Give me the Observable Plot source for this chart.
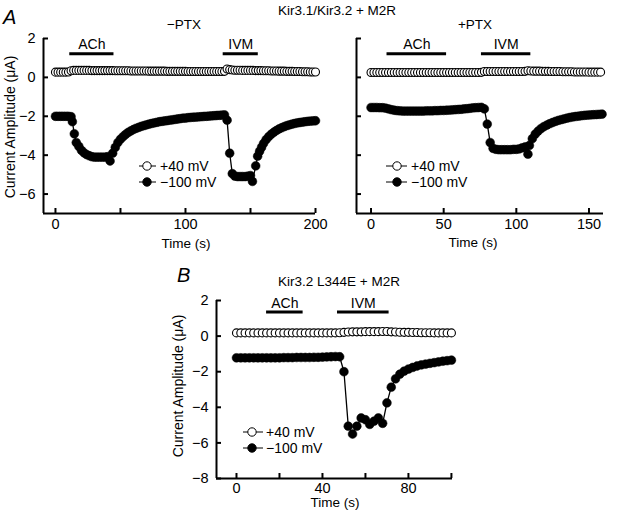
<!DOCTYPE html>
<html><head><meta charset="utf-8">
<script src="https://cdn.jsdelivr.net/npm/d3@7"></script>
<script src="https://cdn.jsdelivr.net/npm/@observablehq/plot@0.6"></script>
<style>
body{margin:0;background:#fff;}
#fig{position:relative;width:618px;height:513px;overflow:hidden;font-family:Arial,"Liberation Sans",Helvetica,sans-serif;color:#000;background:#fff;}
.p{position:absolute;}
.t{position:absolute;transform:translate(-50%,-50%);white-space:nowrap;font-size:13.5px;line-height:1;}
.ylab{transform:translate(-50%,-50%) rotate(-90deg);font-size:14px;}
.big{font-size:20px;font-style:italic;transform:none;}
</style></head><body><div id="fig"></div><script>
// ---------- DATA ----------
// Panel A, -PTX  (time s, current µA)
const a1Pos40 = [[0,.27],[2,.27],[4,.27],[6,.27],[8,.27],[10,.28],[12,.34],[14,.36],[16,.36],[18,.36],[20,.36],[22,.36],[24,.36],[26,.36],[28,.35],[30,.35],[32,.35],[34,.35],[36,.35],[38,.35],[40,.35],[42,.35],[44,.35],[46,.34],[48,.34],[50,.34],[52,.34],[54,.34],[56,.34],[58,.33],[60,.33],[62,.33],[64,.33],[66,.33],[68,.33],[70,.33],[72,.32],[74,.32],[76,.32],[78,.32],[80,.32],[82,.32],[84,.32],[86,.31],[88,.31],[90,.31],[92,.31],[94,.31],[96,.31],[98,.31],[100,.31],[102,.30],[104,.30],[106,.30],[108,.30],[110,.30],[112,.30],[114,.30],[116,.30],[118,.30],[120,.30],[122,.30],[124,.30],[126,.30],[128,.30],[130,.31],[132,.43],[134,.40],[136,.38],[138,.37],[140,.37],[142,.37],[144,.36],[146,.36],[148,.36],[150,.36],[152,.36],[154,.35],[156,.35],[158,.35],[160,.34],[162,.34],[164,.34],[166,.33],[168,.33],[170,.33],[172,.32],[174,.32],[176,.32],[178,.31],[180,.31],[182,.31],[184,.30],[186,.30],[188,.30],[190,.29],[192,.29],[194,.29],[196,.28],[198,.28],[200,.28]];
const a1Neg100 = [[0,-2.0],[2,-2.0],[4,-2.0],[6,-2.0],[8,-2.0],[10,-2.0],[12,-2.02],[13,-2.28],[14.5,-2.9],[16,-3.35],[18,-3.55],[20,-3.75],[22,-3.88],[24,-3.97],[26,-4.03],[28,-4.08],[30,-4.1],[32,-4.1],[34,-4.1],[36,-4.1],[38,-4.1],[40,-4.08],[42,-4.3],[44,-3.9],[46,-3.6],[48,-3.35],[50,-3.18],[52,-3.05],[54,-2.93],[56,-2.83],[58,-2.75],[60,-2.68],[62,-2.62],[64,-2.57],[66,-2.52],[68,-2.48],[70,-2.44],[72,-2.4],[74,-2.37],[76,-2.34],[78,-2.31],[80,-2.28],[82,-2.26],[84,-2.24],[86,-2.22],[88,-2.2],[90,-2.18],[92,-2.16],[94,-2.14],[96,-2.12],[98,-2.1],[100,-2.09],[102,-2.07],[104,-2.06],[106,-2.05],[108,-2.04],[110,-2.03],[112,-2.02],[114,-2.01],[116,-2.0],[118,-1.99],[120,-1.98],[122,-1.97],[124,-1.96],[126,-1.95],[128,-1.94],[130,-1.93],[132,-2.2],[134,-3.9],[136,-4.95],[138,-5.08],[140,-5.1],[142,-5.1],[144,-5.1],[146,-5.1],[148,-5.08],[150,-5.05],[151.5,-5.35],[154,-4.55],[155.5,-4.05],[157,-3.8],[158.5,-3.6],[160,-3.4],[162,-3.2],[164,-3.05],[166,-2.92],[168,-2.82],[170,-2.73],[172,-2.65],[174,-2.59],[176,-2.53],[178,-2.48],[180,-2.44],[182,-2.4],[184,-2.37],[186,-2.34],[188,-2.32],[190,-2.3],[192,-2.28],[194,-2.26],[196,-2.25],[198,-2.24],[200,-2.23]];
const a1Bars = [{label:"ACh", start:11, end:45},{label:"IVM", start:129, end:156}];

// Panel A, +PTX
const a2Pos40 = [[0,.25],[2,.25],[4,.25],[6,.25],[8,.25],[10,.25],[12,.25],[14,.25],[16,.25],[18,.25],[20,.25],[22,.25],[24,.25],[26,.25],[28,.25],[30,.25],[32,.25],[34,.25],[36,.25],[38,.25],[40,.25],[42,.25],[44,.25],[46,.25],[48,.25],[50,.25],[52,.25],[54,.25],[56,.25],[58,.25],[60,.25],[62,.25],[64,.25],[66,.25],[68,.25],[70,.25],[72,.25],[74,.25],[76,.26],[78,.30],[80,.30],[82,.30],[84,.30],[86,.30],[88,.30],[90,.30],[92,.30],[94,.30],[96,.30],[98,.30],[100,.30],[102,.30],[104,.30],[106,.31],[108,.34],[110,.33],[112,.32],[114,.32],[116,.32],[118,.31],[120,.31],[122,.31],[124,.30],[126,.30],[128,.30],[130,.30],[132,.29],[134,.29],[136,.29],[138,.29],[140,.28],[142,.28],[144,.28],[146,.28],[148,.28],[150,.27],[152,.27],[154,.27],[156,.27],[158,.27]];
const a2Neg100 = [[0,-1.55],[2,-1.55],[4,-1.55],[6,-1.56],[8,-1.56],[10,-1.58],[12,-1.62],[14,-1.66],[16,-1.69],[18,-1.71],[20,-1.72],[22,-1.73],[24,-1.73],[26,-1.73],[28,-1.73],[30,-1.73],[32,-1.73],[34,-1.73],[36,-1.73],[38,-1.72],[40,-1.72],[42,-1.72],[44,-1.71],[46,-1.71],[48,-1.7],[50,-1.7],[52,-1.69],[54,-1.68],[56,-1.67],[58,-1.66],[60,-1.65],[62,-1.64],[64,-1.62],[66,-1.61],[68,-1.59],[70,-1.57],[72,-1.56],[74,-1.55],[76,-1.54],[78,-1.62],[80,-2.4],[82,-3.35],[84,-3.65],[86,-3.7],[88,-3.72],[90,-3.72],[92,-3.72],[94,-3.72],[96,-3.72],[98,-3.7],[100,-3.7],[102,-3.68],[104,-3.62],[106,-3.58],[108,-3.95],[109,-3.5],[111,-3.15],[113,-2.92],[115,-2.76],[117,-2.63],[119,-2.53],[121,-2.45],[123,-2.38],[125,-2.32],[127,-2.26],[129,-2.21],[131,-2.17],[133,-2.13],[135,-2.09],[137,-2.06],[139,-2.03],[141,-2.01],[143,-1.99],[145,-1.97],[147,-1.95],[149,-1.94],[151,-1.93],[153,-1.92],[155,-1.91],[157,-1.9],[159,-1.89]];
const a2Bars = [{label:"ACh", start:11, end:52},{label:"IVM", start:76, end:110}];

// Panel B, Kir3.2 L344E
const bPos40 = [[0,.18],[2,.18],[4,.18],[6,.18],[8,.18],[10,.18],[12,.18],[14,.18],[16,.18],[18,.18],[20,.18],[22,.18],[24,.18],[26,.18],[28,.18],[30,.18],[32,.18],[34,.18],[36,.18],[38,.18],[40,.18],[42,.18],[44,.18],[46,.18],[48,.19],[50,.21],[52,.23],[54,.24],[56,.24],[58,.24],[60,.25],[62,.25],[64,.25],[66,.25],[68,.26],[70,.26],[72,.24],[74,.23],[76,.22],[78,.21],[80,.21],[82,.20],[84,.20],[86,.19],[88,.19],[90,.19],[92,.18],[94,.18],[96,.18],[98,.18],[100,.18]];
const bNeg100 = [[0,-1.22],[2,-1.22],[4,-1.22],[6,-1.22],[8,-1.22],[10,-1.22],[12,-1.22],[14,-1.22],[16,-1.22],[18,-1.22],[20,-1.22],[22,-1.21],[24,-1.21],[26,-1.21],[28,-1.2],[30,-1.2],[32,-1.2],[34,-1.2],[36,-1.19],[38,-1.19],[40,-1.18],[42,-1.17],[44,-1.16],[46,-1.15],[48,-1.16],[50,-2.0],[52,-5.06],[54,-5.5],[56,-5.06],[58,-4.6],[60,-4.7],[62,-4.96],[64,-4.78],[66,-4.6],[68,-4.9],[70,-3.75],[72,-2.87],[74,-2.4],[76,-2.14],[78,-1.97],[80,-1.85],[82,-1.76],[84,-1.68],[86,-1.62],[88,-1.57],[90,-1.53],[92,-1.49],[94,-1.45],[96,-1.41],[98,-1.38],[100,-1.35]];
const bBars = [{label:"ACh", start:14, end:31},{label:"IVM", start:47, end:71}];

// ticks
const a1XTicks = [0,50,100,150,200], a1XLabels = [0,100,200];
const a2XTicks = [0,50,100,150], a2XLabels = [0,50,100,150];
const bXTicks = [0,20,40,60,80,100], bXLabels = [0,40,80];
const aYTicks = [2,0,-2,-4,-6], aYLabels = [2,0,-2,-4,-6], a2YLabels = [];
const bYTicks = [2,0,-2,-4,-6,-8], bYLabels = [2,0,-2,-4,-6,-8];

// ---------- DRAW ----------
const FONT = 'Arial, "Liberation Sans", Helvetica, sans-serif';
const fmt = d => d < 0 ? "\u2212" + Math.abs(d) : String(d);
const fig = document.getElementById("fig");

function panel(c) {
  const X = d => d[0], Y = d => d[1];
  const marks = [
    Plot.ruleY(c.bars, {x1: "start", x2: "end", y: c.barY, strokeWidth: 3, stroke: "black"}),
    Plot.text(c.bars, {x: d => (d.start + d.end) / 2, y: c.barTextY, text: "label", fontSize: 14, fill: "black"}),
    Plot.line(c.pos, {x: X, y: Y, stroke: "black", strokeWidth: 1}),
    Plot.line(c.neg, {x: X, y: Y, stroke: "black", strokeWidth: 1.3}),
    Plot.dot(c.pos, {x: X, y: Y, r: 4, fill: "white", stroke: "black", strokeWidth: 1.1}),
    Plot.dot(c.neg, {x: X, y: Y, r: 4.4, fill: "black", stroke: "black", strokeWidth: 0.5}),
    Plot.ruleX([c.xDomain[0]], {stroke: "black", strokeWidth: 2}),
    Plot.ruleY([c.yDomain[0]], {stroke: "black", strokeWidth: 2}),
    Plot.axisX(c.xTicks, {tickSize: -5, fill: "none", stroke: "black", strokeWidth: 2, label: null}),
    Plot.axisX(c.xLabels, {tickSize: 0, tickPadding: c.xPad, label: null, tickFormat: fmt, fill: "black", fontSize: 14.5}),
    Plot.axisY(c.yTicks, {tickSize: -5, fill: "none", stroke: "black", strokeWidth: 2, label: null})
  ];
  if (c.yLabels.length) marks.push(Plot.axisY(c.yLabels, {tickSize: 0, tickPadding: 8, label: null, tickFormat: fmt, fill: "black", fontSize: 14.5}));
  const svg = Plot.plot({
    width: c.width, height: c.height,
    marginLeft: c.mL, marginRight: c.mR, marginTop: c.mT, marginBottom: c.mB,
    x: {domain: c.xDomain}, y: {domain: c.yDomain},
    style: {fontFamily: FONT, fontSize: "14px", color: "black", background: "transparent", overflow: "visible"},
    marks
  });
  const div = document.createElement("div");
  div.className = "p";
  div.style.left = c.left + "px"; div.style.top = c.top + "px";
  div.appendChild(svg);
  fig.appendChild(div);
}

panel({left: 0, top: 0, width: 330, height: 260, mL: 43, mR: 15, mT: 38, mB: 47,
  xDomain: [-9.2, 200], yDomain: [-7, 2], pos: a1Pos40, neg: a1Neg100, bars: a1Bars, barY: 1.22, barTextY: 1.68, xPad: 5,
  xTicks: a1XTicks, xLabels: a1XLabels, yTicks: aYTicks, yLabels: aYLabels});
panel({left: 300, top: 0, width: 318, height: 260, mL: 56, mR: 15, mT: 38, mB: 47,
  xDomain: [-10, 160], yDomain: [-7, 2], pos: a2Pos40, neg: a2Neg100, bars: a2Bars, barY: 1.22, barTextY: 1.68, xPad: 5,
  xTicks: a2XTicks, xLabels: a2XLabels, yTicks: aYTicks, yLabels: a2YLabels});
panel({left: 150, top: 250, width: 320, height: 263, mL: 66, mR: 18, mT: 50, mB: 35,
  xDomain: [-9.3, 100.5], yDomain: [-8, 2], pos: bPos40, neg: bNeg100, bars: bBars, barY: 1.35, barTextY: 1.85, xPad: 4,
  xTicks: bXTicks, xLabels: bXLabels, yTicks: bYTicks, yLabels: bYLabels});

// ---------- TEXT ----------
function txt(s, x, y, cls) {
  const d = document.createElement("div");
  d.className = "t" + (cls ? " " + cls : "");
  d.textContent = s; d.style.left = x + "px"; d.style.top = y + "px";
  fig.appendChild(d);
}
txt("A", 3, 7, "big");
txt("B", 177, 265, "big");
txt("Kir3.1/Kir3.2 + M2R", 337, 11);
txt("\u2212PTX", 184, 25);
txt("+PTX", 475, 25);
txt("Kir3.2 L344E + M2R", 339, 282);
txt("Current Amplitude (\u03bcA)", 10, 127, "ylab");
txt("Current Amplitude (\u03bcA)", 178, 386, "ylab");
txt("Time (s)", 186, 244);
txt("Time (s)", 473, 243);
txt("Time (s)", 335, 503);

// ---------- LEGENDS ----------
const lg = d3.select(fig).append("svg").attr("width", 618).attr("height", 513)
  .style("position", "absolute").style("left", 0).style("top", 0).style("pointer-events", "none");
const legends = [
  {x1: 139, x2: 156, cx: 147, tx: 160, y: [166, 182]},
  {x1: 386, x2: 407, cx: 397, tx: 411, y: [166, 182]},
  {x1: 243, x2: 263, cx: 252, tx: 266, y: [432, 448]}
];
const entries = [{label: "+40 mV", fill: "white"}, {label: "\u2212100 mV", fill: "black"}];
legends.forEach(L => {
  entries.forEach((e, i) => {
    const y = L.y[i];
    lg.append("line").attr("x1", L.x1).attr("x2", L.x2).attr("y1", y).attr("y2", y).attr("stroke", "black").attr("stroke-width", 1);
    lg.append("circle").attr("cx", L.cx).attr("cy", y).attr("r", 4.2).attr("fill", e.fill).attr("stroke", "black");
    lg.append("text").attr("x", L.tx).attr("y", y).attr("dy", "0.35em").attr("font-family", FONT).attr("font-size", 14).text(e.label);
  });
});
</script></body></html>
